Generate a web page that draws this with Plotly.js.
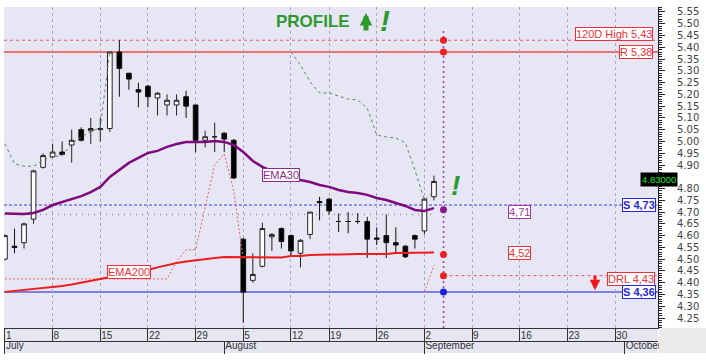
<!DOCTYPE html>
<html><head><meta charset="utf-8">
<script src="https://cdn.plot.ly/plotly-3.0.1.min.js"></script>
<style>html,body{margin:0;padding:0;background:#fff;}#chart{width:706px;height:364px;}</style>
</head><body><div id="chart"></div>
<script>
// ---- data (trading sessions, index = position on the axis) ----
const dates = ['2024-07-01','2024-07-02','2024-07-03','2024-07-04','2024-07-05','2024-07-08','2024-07-09','2024-07-10','2024-07-11','2024-07-12',
'2024-07-15','2024-07-16','2024-07-17','2024-07-18','2024-07-19','2024-07-22','2024-07-23','2024-07-24','2024-07-25','2024-07-26',
'2024-07-29','2024-07-30','2024-07-31','2024-08-01','2024-08-02','2024-08-05','2024-08-06','2024-08-07','2024-08-08','2024-08-09',
'2024-08-12','2024-08-13','2024-08-14','2024-08-16','2024-08-19','2024-08-20','2024-08-21','2024-08-22','2024-08-23',
'2024-08-26','2024-08-27','2024-08-28','2024-08-29','2024-08-30','2024-09-02','2024-09-03'];
const open  = [4.50,4.555,4.57,4.67,4.89,4.935,4.955,4.985,5.05,5.045,5.05,5.055,5.38,5.29,5.22,5.235,5.185,5.155,5.155,5.19,
5.155,5.005,5.02,5.035,5.005,4.585,4.41,4.47,4.595,4.63,4.60,4.525,4.605,4.745,4.755,4.66,4.66,4.66,4.66,4.59,4.60,4.57,4.555,4.60,4.62,4.765];
const high  = [4.605,4.63,4.655,4.88,4.95,4.99,5.00,5.05,5.06,5.10,5.10,5.38,5.43,5.29,5.25,5.24,5.21,5.20,5.20,5.215,
5.155,5.045,5.08,5.04,5.01,4.59,4.525,4.655,4.61,4.635,4.605,4.585,4.70,4.765,4.76,4.695,4.70,4.695,4.68,4.635,4.69,4.635,4.56,4.605,4.76,4.855];
const low   = [4.495,4.525,4.545,4.65,4.885,4.93,4.94,4.91,5.00,4.99,5.00,5.04,5.19,5.22,5.145,5.145,5.11,5.11,5.11,5.10,
4.955,4.975,4.955,4.955,4.84,4.23,4.40,4.465,4.535,4.545,4.51,4.465,4.585,4.665,4.69,4.615,4.61,4.65,4.505,4.56,4.505,4.525,4.505,4.545,4.605,4.75];
const close = [4.60,4.55,4.65,4.875,4.94,4.955,4.945,5.005,5.005,5.055,5.055,5.38,5.31,5.265,5.21,5.19,5.205,5.175,5.175,5.15,
5.005,5.02,5.02,5.01,4.845,4.36,4.435,4.63,4.605,4.575,4.535,4.58,4.70,4.74,4.705,4.66,4.66,4.66,4.585,4.585,4.57,4.56,4.51,4.585,4.755,4.83];
const ema30 = [4.694,4.692,4.692,4.696,4.709,4.73,4.743,4.756,4.768,4.785,4.807,4.849,4.879,4.909,4.93,4.951,4.96,4.977,4.989,4.998,
4.998,4.998,5.002,4.998,4.985,4.955,4.917,4.892,4.875,4.858,4.849,4.836,4.828,4.815,4.807,4.794,4.785,4.781,4.773,4.76,4.751,4.739,4.726,4.709,4.705,4.717];
const ema200 = [4.361,4.365,4.367,4.373,4.375,4.382,4.386,4.392,4.399,4.407,4.416,4.424,4.431,4.437,4.445,4.454,4.465,4.475,4.484,4.49,
4.496,4.501,4.505,4.509,4.509,4.509,4.507,4.507,4.507,4.507,4.513,4.513,4.518,4.52,4.52,4.52,4.522,4.522,4.522,4.522,4.522,4.526,4.526,4.526,4.528,4.528];
const stopLong = [4.99,4.905,4.895,4.895,4.92,4.935,4.94,4.99,5.02,5.04,5.06,5.38,null,null,null,null,null,null,null,null,
null,null,null,null,null,null,null,null,null,null,5.38,5.325,5.253,5.206,5.206,5.193,5.18,5.176,5.142,5.027,5.019,5.015,4.994,4.879,4.751,4.79];
const stopShort = [4.416,4.416,4.416,4.416,4.416,4.416,4.416,4.416,4.416,4.416,4.416,4.416,4.416,4.416,4.416,4.416,4.416,4.416,4.49,4.54,
4.54,4.72,4.90,4.947,4.79,4.50,null,null,null,null,null,null,null,null,null,null,null,null,null,null,null,null,null,null,4.36,4.475];
const dayTickIdx  = [0,5,10,15,20,25,30,34,39,44,49,54,59,64];
const dayTickText = ['1','8','15','22','29','5','12','19','26','2','9','16','23','30'];
const monthTickIdx  = [0,23,44,65];
const monthTickText = ['July','August','September','October'];
const priceTicks = [4.25,4.30,4.35,4.40,4.45,4.50,4.55,4.60,4.65,4.70,4.75,4.80,4.85,4.90,4.95,5.00,5.05,5.10,5.15,5.20,5.25,5.30,5.35,5.40,5.45,5.50,5.55];
const high120 = 5.43, resistance = 5.38, support1 = 4.73, support2 = 4.36, drl = 4.43, pivotLevel = 4.69;
const ema30Next = 4.71, ema200Next = 4.52, lastPrice = 4.83;

// ---- geometry ----
const idx = dates.map((d, i) => i);
const nextIdx = dates.length;
const xRange = [-0.1, 68.5];
const yRange = [4.2075, 5.5712];
const FONT = 'Liberation Sans, Arial, sans-serif';
const RED = '#EE3038', BLUE = '#2828D8', PURPLE = '#8A2A8A', GREEN = '#2E9A2E';
// the last-price box covers the tick label right under it
const priceTickText = priceTicks.map(v => Math.abs(v - lastPrice) < 0.03 ? '' : v.toFixed(2));

const traces = [
  {type:'candlestick', x: idx, open, high, low, close,
   increasing:{line:{color:'#222', width:1}, fillcolor:'#ffffff'},
   decreasing:{line:{color:'#111', width:1}, fillcolor:'#000000'},
   whiskerwidth:0, hoverinfo:'skip', showlegend:false},
  {type:'scatter', mode:'lines', x: idx, y: stopLong, line:{color:'#6E806E', width:1, dash:'3px,3px'}, hoverinfo:'skip'},
  {type:'scatter', mode:'lines', x: idx, y: stopShort, line:{color:'#F0606E', width:1, dash:'2px,2px'}, hoverinfo:'skip'},
  {type:'scatter', mode:'lines', x: idx, y: ema200, line:{color:'#EE1C1C', width:2}, hoverinfo:'skip'},
  {type:'scatter', mode:'lines', x: idx, y: ema30, line:{color:'#7E0A7E', width:2.5}, hoverinfo:'skip'},
  {type:'scatter', mode:'markers', x:[nextIdx,nextIdx,nextIdx,nextIdx,nextIdx,nextIdx],
   y:[high120, resistance, ema200Next, drl, ema30Next, support2],
   marker:{size:7, color:['#F01E1E','#F01E1E','#F01E1E','#F01E1E','#8A1A8A','#1E1EE0']}, hoverinfo:'skip'},
  {type:'scatter', mode:'markers', x:[monthTickIdx[0]], y:[null], xaxis:'x2', yaxis:'y', hoverinfo:'skip'}
];

function hline(y, color, width, dash, x0, x1) {
  return {type:'line', xref:'x', yref:'y', x0: x0 === undefined ? xRange[0] : x0, x1: x1 === undefined ? xRange[1] : x1,
          y0:y, y1:y, line:{color, width, dash}, layer:'below'};
}
const shapes = [
  hline(high120, '#F0506A', 1, '3px,3px'),
  hline(resistance, '#F04A4A', 1.5, 'solid'),
  hline(support1, '#3C3CE0', 1, '3px,2px'),
  hline(support2, '#5C5CDA', 1.5, 'solid'),
  hline(drl, '#F0506A', 1, '3px,3px', nextIdx, xRange[1]),
  hline(pivotLevel, '#8A8A9C', 1.5, '1px,5px', xRange[0], nextIdx - 1),
  {type:'line', xref:'x', yref:'y', x0:nextIdx, x1:nextIdx, y0:yRange[0], y1:5.47, line:{color:'#A040A8', width:1.5, dash:'2px,3px'}, layer:'below'},
  // axis bands
  {type:'rect', xref:'paper', yref:'paper', x0:0, x1:1, y0:0.003, y1:0.0749, fillcolor:'#E6E6F2', line:{width:0}, layer:'below'},
  {type:'rect', xref:'paper', yref:'paper', x0:1.0015, x1:1.08, y0:0.003, y1:0.0749, fillcolor:'#EAEAEA', line:{width:0}, layer:'above'}
];

function box(text, x, y, color, opts) {
  return Object.assign({text, x, y, xref:'x', yref:'y', showarrow:false, bgcolor:'#ffffff', bordercolor:color, borderwidth:1, borderpad:0,
    font:{family:FONT, size:11, color}}, opts || {});
}
const annotations = [
  box('120D High 5,43', 1, high120, RED, {xref:'paper', xanchor:'right', yanchor:'bottom', xshift:-5, yshift:-1}),
  box('R 5,38', 1, resistance, RED, {xref:'paper', xanchor:'right', xshift:-5}),
  box('<b>S 4,73</b>', 1, support1, BLUE, {xref:'paper', xanchor:'right', xshift:-2}),
  box('DRL 4,43', 1, drl, RED, {xref:'paper', xanchor:'right', xshift:-3, yshift:-3}),
  box('<b>S 4,36</b>', 1, support2, BLUE, {xref:'paper', xanchor:'right', xshift:-2}),
  box('4,71', nextIdx + 8, ema30Next, '#9A3AA0', {yshift:-2}),
  box('4,52', nextIdx + 8, ema200Next, RED, {yshift:1}),
  box('EMA30', 29, ema30[29], PURPLE),
  box('EMA200', 13, ema200[13], RED, {yshift:2}),
  {text:'4.83000', xref:'paper', x:1.0313, yref:'y', y:lastPrice + 0.008, showarrow:false, bgcolor:'#000000', borderpad:1,
   font:{family:FONT, size:9.5, color:'#22E022'}},
  {text:'<b>PROFILE</b>', xref:'paper', yref:'y', x:0.473, y:5.5096, showarrow:false, font:{family:FONT, size:17, color:GREEN}},
  {text:'', xref:'paper', yref:'y', x:0.5535, y:5.5457, ax:0, ay:19, showarrow:true, arrowhead:2, arrowsize:0.5, arrowwidth:5, arrowcolor:GREEN},
  {text:'<b><i>!</i></b>', xref:'paper', yref:'y', x:0.583, y:5.512, showarrow:false, font:{family:FONT, size:30, color:GREEN}},
  {text:'<b><i>!</i></b>', xref:'paper', yref:'paper', x:0.700, y:0.487, showarrow:false, font:{family:FONT, size:28, color:GREEN}},
  {text:'', xref:'paper', yref:'paper', x:0.9037, y:0.184, ax:0, ay:-16, showarrow:true, arrowhead:2, arrowsize:0.7, arrowwidth:3, arrowcolor:'#F01818'}
];

const layout = {
  width:706, height:364,
  margin:{l:4, r:48, t:7, b:10, pad:0},
  paper_bgcolor:'#ffffff', plot_bgcolor:'#E6E6F4',
  showlegend:false, dragmode:false, hovermode:false,
  xaxis:{range:xRange, tickmode:'array', tickvals:dayTickIdx, ticktext:dayTickText,
    ticks:'outside', ticklen:13, tickcolor:'#333', tickwidth:1, showline:true, linecolor:'#333', linewidth:1,
    showgrid:true, gridcolor:'#A8A8BC', griddash:'3px,3px', gridwidth:1, zeroline:false,
    ticklabelposition:'outside right', ticklabelstandoff:-2,
    tickfont:{family:FONT, size:10, color:'#333'}, rangeslider:{visible:false}, fixedrange:true},
  xaxis2:{overlaying:'x', anchor:'free', position:0.0375, range:xRange, tickmode:'array', tickvals:monthTickIdx, ticktext:monthTickText,
    ticks:'outside', ticklen:12, tickcolor:'#333', showline:true, linecolor:'#333', linewidth:1,
    showgrid:false, zeroline:false, ticklabelposition:'outside right', ticklabelstandoff:-5,
    tickfont:{family:FONT, size:10, color:'#333'}, fixedrange:true},
  yaxis:{domain:[0.0749, 1], side:'right', range:yRange, tickmode:'array', tickvals:priceTicks, ticktext:priceTickText,
    ticks:'outside', ticklen:6, tickcolor:'#222', showline:true, linecolor:'#222', linewidth:1,
    showgrid:false, zeroline:false, ticklabelstandoff:10,
    tickfont:{family:'DejaVu Sans, Verdana, sans-serif', size:10, color:'#444'},
    minor:{dtick:0.01, ticklen:3, ticks:'outside', tickcolor:'#222', showgrid:false}, fixedrange:true},
  shapes, annotations
};

Plotly.newPlot('chart', traces, layout, {displayModeBar:false, staticPlot:true});
</script>
</body></html>
